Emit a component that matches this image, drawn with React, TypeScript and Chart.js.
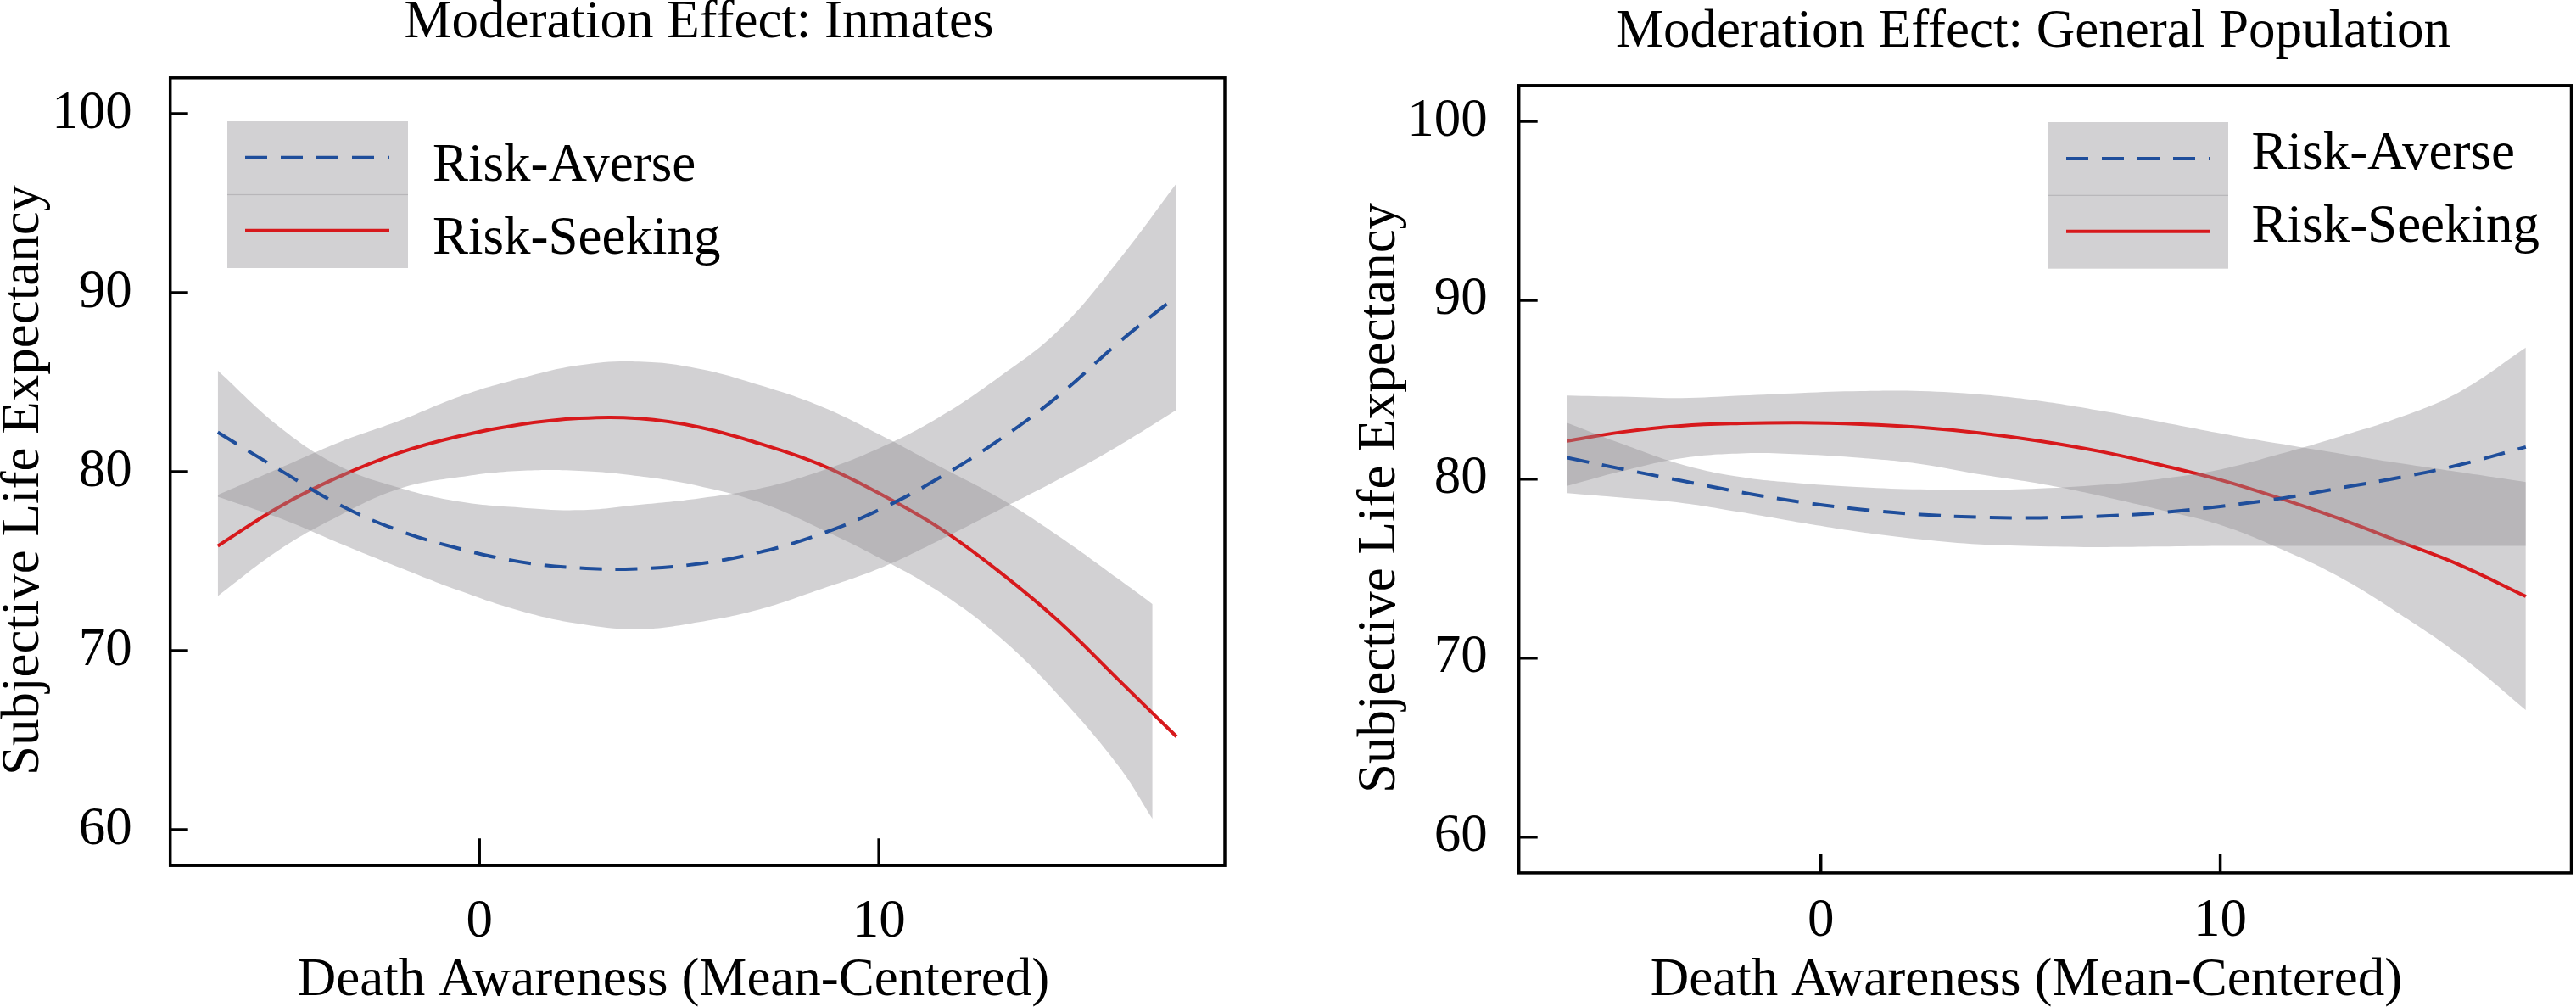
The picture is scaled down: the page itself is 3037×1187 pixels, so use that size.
import React, { useEffect, useRef } from "react";
import Chart from "chart.js/auto";

// Inmates panel
const inmatesX = [-6.55, -5, -3.5, -2, -0.5, 1, 2.5, 4, 5.5, 7, 8.5, 10, 11.5, 13, 14.5, 16, 17.45];
const inmatesBandX = [-6.55, -5, -3.5, -2, -0.5, 1, 2.5, 4, 5.5, 7, 8.5, 10, 11.5, 13, 14.5, 16, 16.85];
const inmatesAverse = [82.2, 80.1, 78.15, 76.7, 75.7, 74.97, 74.62, 74.58, 74.86, 75.49, 76.48, 77.86, 79.64, 81.76, 84.25, 87.21, 89.8];
const inmatesAverseHi = [85.65, 82.49, 80.31, 79.1, 78.33, 78.0, 77.85, 78.15, 78.51, 79.05, 80.0, 81.3, 83.03, 85.27, 87.9, 91.8, 96.1];
const inmatesAverseLo = [78.6, 77.4, 76.0, 74.65, 73.35, 72.24, 71.5, 71.2, 71.6, 72.3, 73.4, 74.58, 76.15, 77.85, 79.57, 81.45, 83.45];
const inmatesSeeking = [75.85, 78.05, 79.73, 81.06, 81.99, 82.63, 82.98, 82.97, 82.49, 81.58, 80.43, 78.8, 76.88, 74.44, 71.65, 68.37, 65.2];
const inmatesSeekingHi = [78.7, 80.2, 81.65, 82.85, 84.2, 85.2, 85.95, 86.15, 85.75, 84.85, 83.7, 82.1, 80.32, 78.55, 76.4, 74.0, 72.6];
const inmatesSeekingLo = [73.05, 75.65, 77.55, 79.05, 79.7, 80.05, 80.05, 79.75, 79.2, 78.3, 76.85, 75.2, 73.3, 70.8, 67.5, 63.55, 60.6];

// General population panel
const generalX = [-6.35, -5, -3.5, -2, -0.5, 1, 2.5, 4, 5.5, 7, 8.5, 10, 11.5, 13, 14.5, 16, 17.65];
const generalAverse = [81.2, 80.58, 79.92, 79.27, 78.72, 78.31, 78.03, 77.87, 77.84, 77.93, 78.13, 78.48, 78.92, 79.51, 80.1, 80.81, 81.8];
const generalAverseHi = [83.15, 82.0, 80.84, 80.12, 79.77, 79.56, 79.43, 79.4, 79.48, 79.68, 80.02, 80.54, 81.41, 82.39, 83.46, 84.89, 87.35];
const generalAverseLo = [79.22, 78.97, 78.68, 78.15, 77.57, 77.04, 76.64, 76.35, 76.25, 76.2, 76.23, 76.27, 76.27, 76.27, 76.27, 76.27, 76.27];
const generalSeeking = [82.14, 82.63, 82.98, 83.12, 83.16, 83.08, 82.9, 82.58, 82.13, 81.55, 80.8, 79.96, 78.93, 77.78, 76.5, 75.2, 73.45];
const generalSeekingHi = [84.68, 84.61, 84.53, 84.67, 84.82, 84.92, 84.92, 84.73, 84.37, 83.83, 83.21, 82.57, 81.98, 81.43, 80.89, 80.39, 79.84];
const generalSeekingLo = [79.62, 80.44, 81.17, 81.44, 81.39, 81.19, 80.85, 80.26, 79.74, 79.07, 78.29, 77.45, 76.12, 74.52, 72.46, 70.15, 67.1];

const yTickValues = [60, 70, 80, 90, 100];
const xTickValues = [0, 10];
const legendLabels = ["Risk-Averse", "Risk-Seeking"];

const BLUE = "#1f4e9b";
const RED = "#d7191c";
const BAND = "rgba(145, 143, 148, 0.41)";
const FONT = "'Liberation Serif', 'Times New Roman', serif";

const pts = (xs: number[], ys: number[]) => xs.map((x, i) => ({ x, y: ys[i] }));

interface Panel {
  left: number;
  width: number;
  title: string;
  xMin: number;
  xMax: number;
  area: { left: number; top: number; right: number; bottom: number };
  yPad: number;
  xPad: number;
  yTickLen: number;
  xTickLen: number;
  titlePos: [number, number];
  xTitlePos: [number, number];
  yTitlePos: [number, number];
  legend: { x: number; y: number; w: number; h: number; lineX: [number, number]; lineY: [number, number]; textX: number; textY: [number, number] };
  averse: { x: number; y: number }[];
  averseHi: { x: number; y: number }[];
  averseLo: { x: number; y: number }[];
  seeking: { x: number; y: number }[];
  seekingHi: { x: number; y: number }[];
  seekingLo: { x: number; y: number }[];
}

const HEIGHT = 1187;

const panels: Panel[] = [
  {
    left: 0,
    width: 1510,
    title: "Moderation Effect: Inmates",
    xMin: -7.74,
    xMax: 18.66,
    area: { left: 200.7, top: 91.8, right: 1444, bottom: 1020.2 },
    yPad: 37,
    xPad: 21,
    yTickLen: 21,
    xTickLen: 32,
    titlePos: [824, 44],
    xTitlePos: [794, 1173],
    yTitlePos: [45, 566],
    legend: { x: 268, y: 143, w: 213, h: 173, lineX: [289, 459], lineY: [185.7, 271.7], textX: 510, textY: [213, 299] },
    averse: pts(inmatesX, inmatesAverse),
    averseHi: pts(inmatesX, inmatesAverseHi),
    averseLo: pts(inmatesX, inmatesAverseLo),
    seeking: pts(inmatesX, inmatesSeeking),
    seekingHi: pts(inmatesBandX, inmatesSeekingHi),
    seekingLo: pts(inmatesBandX, inmatesSeekingLo),
  },
  {
    left: 1510,
    width: 1527,
    title: "Moderation Effect: General Population",
    xMin: -7.56,
    xMax: 18.79,
    area: { left: 280.7, top: 100.8, right: 1521.5, bottom: 1028.9 },
    yPad: 29,
    xPad: 12,
    yTickLen: 22,
    xTickLen: 22,
    titlePos: [887, 55],
    xTitlePos: [879, 1173],
    yTitlePos: [134, 587],
    legend: { x: 904, y: 144, w: 213, h: 172.7, lineX: [926, 1096], lineY: [187, 272.7], textX: 1144.6, textY: [199, 285] },
    averse: pts(generalX, generalAverse),
    averseHi: pts(generalX, generalAverseHi),
    averseLo: pts(generalX, generalAverseLo),
    seeking: pts(generalX, generalSeeking),
    seekingHi: pts(generalX, generalSeekingHi),
    seekingLo: pts(generalX, generalSeekingLo),
  },
];

function ModerationPanel({ panel }: { panel: Panel }) {
  const canvasRef = useRef<HTMLCanvasElement | null>(null);

  useEffect(() => {
    const canvas = canvasRef.current;
    if (!canvas) return;

    const a = panel.area;

    // frame, inward ticks, titles and the legend
    const decor = {
      id: "panelDecor",
      afterDraw(chart: any) {
        const ctx = chart.ctx as CanvasRenderingContext2D;
        const { left, top, right, bottom } = chart.chartArea;
        const xs = chart.scales.x;
        const ys = chart.scales.y;
        ctx.save();
        ctx.strokeStyle = "#000";
        ctx.lineWidth = 3.5;
        ctx.beginPath();
        ys.ticks.forEach((t: any) => {
          const py = ys.getPixelForValue(t.value);
          ctx.moveTo(left, py);
          ctx.lineTo(left + panel.yTickLen, py);
        });
        xs.ticks.forEach((t: any) => {
          const px = xs.getPixelForValue(t.value);
          ctx.moveTo(px, bottom);
          ctx.lineTo(px, bottom - panel.xTickLen);
        });
        ctx.stroke();
        ctx.strokeRect(left, top, right - left, bottom - top);

        // legend
        const lg = panel.legend;
        const half = lg.h / 2;
        ctx.fillStyle = BAND;
        ctx.fillRect(lg.x, lg.y, lg.w, half + 0.6);
        ctx.fillRect(lg.x, lg.y + half - 0.6, lg.w, half + 0.6);
        ctx.lineWidth = 4;
        ctx.lineCap = "butt";
        ctx.strokeStyle = BLUE;
        ctx.setLineDash([26, 16]);
        ctx.beginPath();
        ctx.moveTo(lg.lineX[0], lg.lineY[0]);
        ctx.lineTo(lg.lineX[1], lg.lineY[0]);
        ctx.stroke();
        ctx.setLineDash([]);
        ctx.strokeStyle = RED;
        ctx.beginPath();
        ctx.moveTo(lg.lineX[0], lg.lineY[1]);
        ctx.lineTo(lg.lineX[1], lg.lineY[1]);
        ctx.stroke();

        ctx.fillStyle = "#000";
        ctx.font = `63px ${FONT}`;
        ctx.textAlign = "left";
        ctx.textBaseline = "alphabetic";
        ctx.fillText(legendLabels[0], lg.textX, lg.textY[0]);
        ctx.fillText(legendLabels[1], lg.textX, lg.textY[1]);

        // titles
        ctx.textAlign = "center";
        ctx.fillText(panel.title, panel.titlePos[0], panel.titlePos[1]);
        ctx.fillText("Death Awareness (Mean-Centered)", panel.xTitlePos[0], panel.xTitlePos[1]);
        ctx.translate(panel.yTitlePos[0], panel.yTitlePos[1]);
        ctx.rotate(-Math.PI / 2);
        ctx.fillText("Subjective Life Expectancy", 0, 0);
        ctx.restore();
      },
    };

    const tickFont = { family: FONT, size: 63 };

    const chart = new Chart(canvas, {
      type: "line",
      data: {
        datasets: [
          { label: "averse-hi", data: panel.averseHi, borderWidth: 0, pointRadius: 0, fill: false, order: 3 },
          { label: "averse-lo", data: panel.averseLo, borderWidth: 0, pointRadius: 0, fill: "-1", backgroundColor: BAND, order: 2 },
          { label: legendLabels[0], data: panel.averse, borderColor: BLUE, borderWidth: 4, borderDash: [26, 16], pointRadius: 0, fill: false, order: 1 },
          { label: "seeking-hi", data: panel.seekingHi, borderWidth: 0, pointRadius: 0, fill: false, order: 6 },
          { label: "seeking-lo", data: panel.seekingLo, borderWidth: 0, pointRadius: 0, fill: "-1", backgroundColor: BAND, order: 5 },
          { label: legendLabels[1], data: panel.seeking, borderColor: RED, borderWidth: 4, pointRadius: 0, fill: false, order: 4 },
        ],
      },
      options: {
        animation: false,
        responsive: false,
        maintainAspectRatio: false,
        devicePixelRatio: 1,
        layout: { padding: { left: 0, top: a.top, right: panel.width - a.right, bottom: 0 } },
        elements: { line: { tension: 0.4, cubicInterpolationMode: "default" } },
        plugins: { legend: { display: false }, tooltip: { enabled: false }, title: { display: false } },
        scales: {
          x: {
            type: "linear",
            min: panel.xMin,
            max: panel.xMax,
            grid: { display: false },
            border: { display: false },
            afterBuildTicks: (s: any) => {
              s.ticks = xTickValues.map((value) => ({ value }));
            },
            ticks: { font: tickFont, color: "#000", padding: panel.xPad, maxRotation: 0, autoSkip: false },
            afterFit: (s: any) => {
              s.height = HEIGHT - a.bottom;
            },
          },
          y: {
            type: "linear",
            min: 58,
            max: 102,
            grid: { display: false },
            border: { display: false },
            afterBuildTicks: (s: any) => {
              s.ticks = yTickValues.map((value) => ({ value }));
            },
            ticks: { font: tickFont, color: "#000", padding: panel.yPad, autoSkip: false },
            afterFit: (s: any) => {
              s.width = a.left;
            },
          },
        },
      },
      plugins: [decor],
    } as any);

    return () => {
      chart.destroy();
    };
  }, [panel]);

  return (
    <canvas
      ref={canvasRef}
      width={panel.width}
      height={HEIGHT}
      style={{ position: "absolute", left: panel.left, top: 0, width: panel.width, height: HEIGHT }}
    />
  );
}

export default function App() {
  return (
    <div style={{ position: "fixed", left: 0, top: 0, width: 3037, height: HEIGHT, background: "#fff", overflow: "hidden" }}>
      {panels.map((p) => (
        <ModerationPanel key={p.title} panel={p} />
      ))}
    </div>
  );
}
